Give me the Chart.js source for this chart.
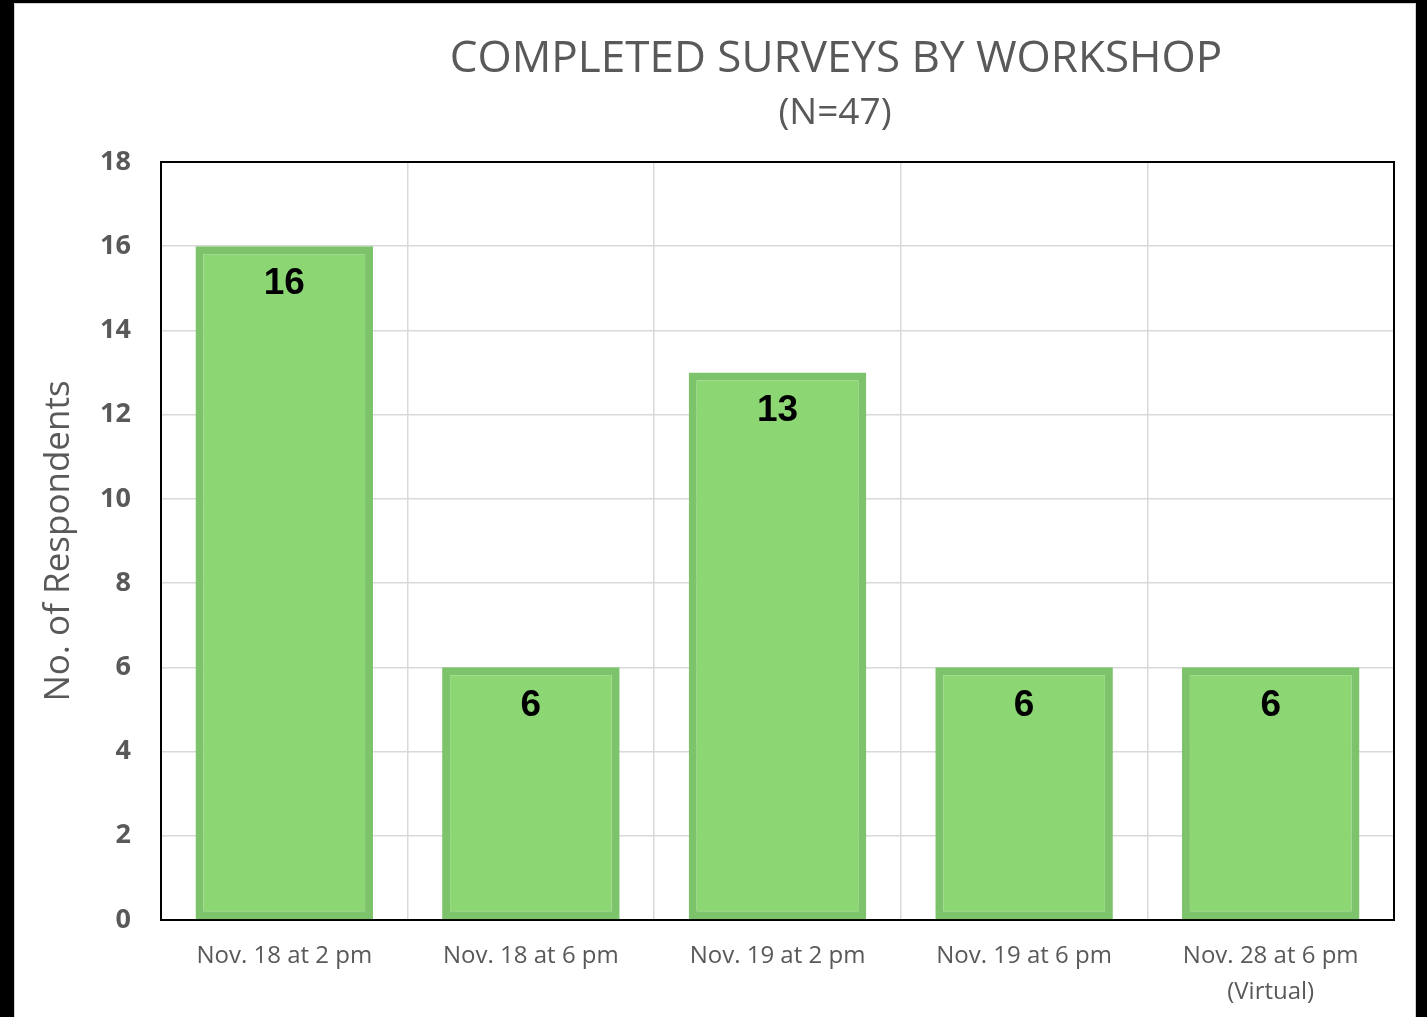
<!DOCTYPE html>
<html>
<head>
<meta charset="utf-8">
<script src="https://cdn.jsdelivr.net/npm/chart.js@4.4.1/dist/chart.umd.min.js"></script>
<style>
  html, body { margin: 0; padding: 0; background: #000; }
  #panel {
    position: absolute; left: 14px; top: 3px; width: 1400px; height: 1014px;
    background: #fff; border: 1px solid #d0d0d0; border-bottom: none;
  }
  #wrap { position: absolute; left: 0; top: 0; width: 1427px; height: 1017px; }
</style>
</head>
<body>
<div id="panel"></div>
<div id="wrap"><canvas id="chart" width="1427" height="1017"></canvas></div>
<script>
const workshops = [
  'Nov. 18 at 2 pm',
  'Nov. 18 at 6 pm',
  'Nov. 19 at 2 pm',
  'Nov. 19 at 6 pm',
  ['Nov. 28 at 6 pm', '(Virtual)'],
];
const respondents = [16, 6, 13, 6, 6];
const titleLines = ['COMPLETED SURVEYS BY WORKSHOP', '(N=47)'];
const yTitle = 'No. of Respondents';

const gray = '#595959';
const uiFont = "'Open Sans', 'Noto Sans', sans-serif";

const titlePlugin = {
  id: 'titleLines',
  afterDraw(chart) {
    const ctx = chart.ctx;
    ctx.save();
    ctx.fillStyle = gray;
    ctx.textAlign = 'center';
    ctx.textBaseline = 'middle';
    ctx.font = `44px ${uiFont}`;
    ctx.fillText(titleLines[0], 836, 59);
    ctx.font = `37px ${uiFont}`;
    ctx.fillText(titleLines[1], 835, 113);
    ctx.restore();
  },
};

const framePlugin = {
  id: 'frame',
  beforeDatasetsDraw(chart) {
    const { ctx, chartArea } = chart;
    ctx.save();
    ctx.strokeStyle = '#000';
    ctx.lineWidth = 2;
    ctx.strokeRect(chartArea.left, chartArea.top, chartArea.right - chartArea.left, chartArea.bottom - chartArea.top);
    ctx.restore();
  },
};

const valueLabels = {
  id: 'valueLabels',
  afterDatasetsDraw(chart) {
    const ctx = chart.ctx;
    const meta = chart.getDatasetMeta(0);
    ctx.save();
    ctx.fillStyle = '#000';
    ctx.textAlign = 'center';
    ctx.textBaseline = 'middle';
    ctx.font = "bold 37px 'Liberation Sans', Arial, sans-serif";
    meta.data.forEach((bar, i) => {
      ctx.fillText(String(respondents[i]), bar.x, bar.y + 38);
    });
    ctx.restore();
  },
};

new Chart(document.getElementById('chart'), {
  type: 'bar',
  data: {
    labels: workshops,
    datasets: [
      {
        data: respondents,
        backgroundColor: '#8CD674',
        borderColor: '#7DC36B',
        borderWidth: 8,
        borderSkipped: false,
        categoryPercentage: 1,
        barPercentage: 0.72,
      },
    ],
  },
  options: {
    responsive: false,
    animation: false,
    layout: { padding: { left: 38, right: 33, top: 162, bottom: 0 } },
    plugins: {
      legend: { display: false },
      tooltip: { enabled: false },
    },
    scales: {
      x: {
        offset: true,
        grid: { color: '#d9d9d9', lineWidth: 1.5, drawTicks: false, offset: true },
        border: { display: false },
        ticks: {
          color: gray,
          font: { family: uiFont, size: 24, lineHeight: 1.5 },
          padding: 18,
          maxRotation: 0,
        },
        afterFit(scale) { scale.height = 97; },
      },
      y: {
        min: 0,
        max: 18,
        ticks: {
          stepSize: 2,
          color: gray,
          font: { family: uiFont, size: 27, weight: 'bold' },
          padding: 30,
        },
        grid: { color: '#d9d9d9', lineWidth: 1.5, drawTicks: false },
        border: { display: false },
        title: {
          display: true,
          text: yTitle,
          color: gray,
          font: { family: uiFont, size: 35 },
          padding: { top: 0, bottom: 0 },
        },
        afterFit(scale) { scale.width = 123; },
      },
    },
  },
  plugins: [titlePlugin, framePlugin, valueLabels],
});
</script>
</body>
</html>
